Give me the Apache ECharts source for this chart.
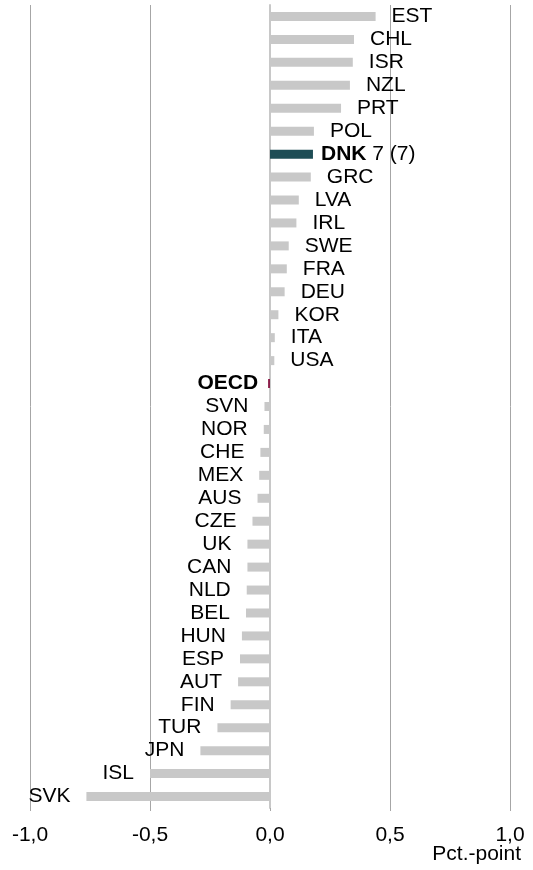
<!DOCTYPE html>
<html>
<head>
<meta charset="utf-8">
<script src="https://cdn.jsdelivr.net/npm/echarts@6/dist/echarts.min.js"></script>
<style>
  html, body { margin: 0; padding: 0; background: #fff; }
  #chart { width: 533px; height: 870px; }
</style>
</head>
<body>
<div id="chart"></div>
<script>
  // countries, top to bottom
  var countries = ['EST', 'CHL', 'ISR', 'NZL', 'PRT', 'POL', 'DNK', 'GRC', 'LVA', 'IRL',
    'SWE', 'FRA', 'DEU', 'KOR', 'ITA', 'USA', 'OECD', 'SVN', 'NOR', 'CHE',
    'MEX', 'AUS', 'CZE', 'UK', 'CAN', 'NLD', 'BEL', 'HUN', 'ESP', 'AUT',
    'FIN', 'TUR', 'JPN', 'ISL', 'SVK'];
  // change in pct.-point
  var change = [0.44, 0.35, 0.345, 0.333, 0.296, 0.183, 0.179, 0.17, 0.12, 0.11,
    0.078, 0.07, 0.061, 0.035, 0.02, 0.018, -0.008, -0.023, -0.026, -0.04,
    -0.045, -0.052, -0.073, -0.094, -0.094, -0.097, -0.1, -0.117, -0.125, -0.133,
    -0.164, -0.219, -0.29, -0.5, -0.765];
  var xTicks = [-1, -0.5, 0, 0.5, 1];
  var highlight = 'DNK';
  var highlightRank = '7 (7)';
  var average = 'OECD';
  var unitText = 'Pct.-point';

  var font = 'Liberation Sans, Arial, sans-serif';

  var seriesData = countries.map(function (c, i) {
    var v = change[i];
    var color = '#c8c8c8';
    var dist = 16;
    var fmt = '{n|' + c + '}';
    if (c === highlight) {
      color = '#1e4d55';
      dist = 8;
      fmt = '{b|' + c + '}{n| ' + highlightRank + '}';
    } else if (c === average) {
      color = '#8c1e4a';
      dist = 10;
      fmt = '{b|' + c + '}';
    }
    return {
      value: v,
      itemStyle: { color: color },
      label: {
        show: true,
        position: v >= 0 ? 'right' : 'left',
        distance: dist,
        formatter: fmt
      }
    };
  });

  var myChart = echarts.init(document.getElementById('chart'));
  var option = {
    backgroundColor: '#fff',
    animation: false,
    textStyle: { fontFamily: font },
    grid: { left: 30, right: 23, top: 5, height: 803 },
    xAxis: {
      type: 'value',
      min: xTicks[0],
      max: xTicks[xTicks.length - 1],
      interval: 0.5,
      axisLine: { show: false },
      axisTick: { show: true, length: 3, lineStyle: { color: '#a6a6a6' } },
      splitLine: { show: true, lineStyle: { color: '#a6a6a6', width: 1 } },
      axisLabel: {
        margin: 17,
        color: '#000',
        fontSize: 21,
        fontFamily: font,
        formatter: function (v) { return v.toFixed(1).replace('.', ','); }
      }
    },
    yAxis: {
      type: 'category',
      data: countries,
      inverse: true,
      axisLine: { show: true, onZero: true, lineStyle: { color: '#c8c8c8', width: 2 } },
      axisTick: { show: false },
      axisLabel: { show: false }
    },
    series: [{
      type: 'bar',
      barWidth: 9,
      data: seriesData,
      label: {
        color: '#000',
        fontFamily: font,
        rich: {
          n: { fontSize: 21, color: '#000', fontFamily: font },
          b: { fontSize: 21, color: '#000', fontWeight: 'bold', fontFamily: font }
        }
      }
    }],
    graphic: [{
      type: 'text',
      right: 12,
      top: 844,
      style: { text: unitText, fill: '#000', font: '21px ' + font }
    }]
  };
  myChart.setOption(option);
</script>
</body>
</html>
